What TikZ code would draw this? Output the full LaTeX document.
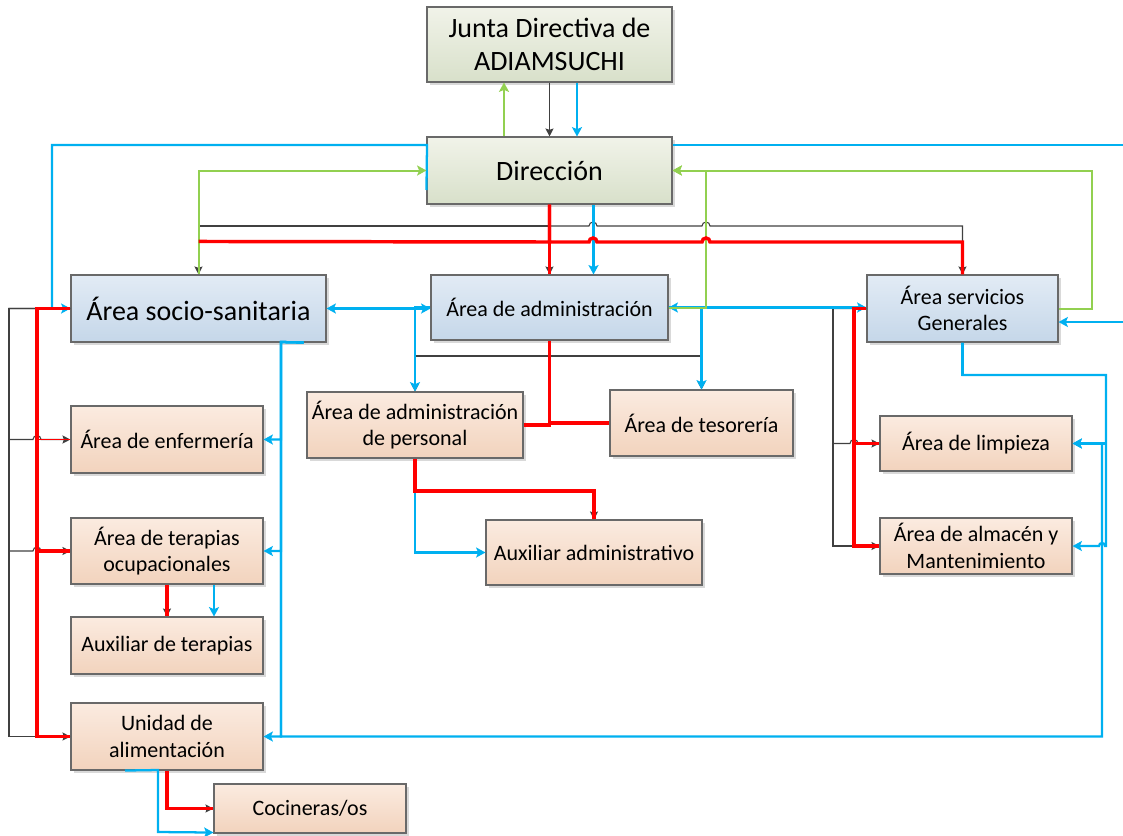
\documentclass[tikz,border=0pt]{standalone}
\usepackage{fontspec}
\setmainfont{Carlito}
\usetikzlibrary{arrows.meta,shadows,calc}

\definecolor{linegray}{RGB}{64,64,64}
\definecolor{lineblue}{RGB}{0,176,240}
\definecolor{linegreen}{RGB}{146,208,80}
\definecolor{linered}{RGB}{255,0,0}
\definecolor{boxedge}{RGB}{105,105,105}

\begin{document}
\begin{tikzpicture}[
    x=0.75pt, y=-0.75pt,
    box/.style={rectangle, draw=boxedge, line width=0.8pt, inner sep=0pt, align=center,
        drop shadow={shadow xshift=2pt, shadow yshift=-2pt, fill=black, opacity=0.15},
        font=\fontsize{16.5}{20}\selectfont},
    size/.style 2 args={minimum width=#1*0.75pt, minimum height=#2*0.75pt},
    box_head/.style={box, top color={rgb,255:red,241;green,243;blue,233}, bottom color={rgb,255:red,216;green,224;blue,202},
        font=\fontsize{21}{25}\selectfont},
    box_area/.style={box, top color={rgb,255:red,226;green,235;blue,245}, bottom color={rgb,255:red,197;green,215;blue,233}},
    box_unit/.style={box, top color={rgb,255:red,251;green,235;blue,224}, bottom color={rgb,255:red,242;green,211;blue,189}},
    link_gray/.style={draw=linegray, line width=0.8pt, -{Stealth[length=6pt, width=6pt, inset=1pt]}},
    link_blue/.style={draw=lineblue, line width=1.7pt, -{Stealth[length=7pt, width=7.5pt, inset=1.5pt]}},
    link_green/.style={draw=linegreen, line width=1.5pt, -{Stealth[length=7pt, width=7.5pt, inset=1.5pt]}},
    link_red/.style={draw=linered, line width=2.6pt},
    bothways/.style={{Stealth[length=7pt, width=7.5pt, inset=1.5pt]}-{Stealth[length=7pt, width=7.5pt, inset=1.5pt]}}
  ]
  \clip (0,0) rectangle (1123,835);

  % boxes
  \node (junta) [box_head, size={245}{75}] at (549.5,44.5) {Junta Directiva de\\ADIAMSUCHI};
  \node (dir) [box_head, size={245}{67}] at (549.5,170.5) {Dirección};
  \node (socio) [box_area, size={255}{67}, font=\fontsize{21}{25}\selectfont] at (198.5,308.5) {Área socio-sanitaria};
  \node (admin) [box_area, size={237}{65}] at (549.5,307.5) {Área de administración};
  \node (serv) [box_area, size={191}{67}] at (962.5,308.5) {Área servicios\\Generales};
  \node (enf) [box_unit, size={192}{67}] at (167,439.5) {Área de enfermería};
  \node (terap) [box_unit, size={192}{66}] at (167,551) {Área de terapias\\ocupacionales};
  \node (auxter) [box_unit, size={192}{57}] at (167,645.5) {Auxiliar de terapias};
  \node (unidad) [box_unit, size={192}{67}] at (167,736.5) {Unidad de\\alimentación};
  \node (cocina) [box_unit, size={192}{49}] at (310,808.5) {Cocineras/os};
  \node (personal) [box_unit, size={216}{66}] at (415,425) {Área de administración\\de personal};
  \node (tesor) [box_unit, size={183}{66}] at (701.5,423) {Área de tesorería};
  \node (auxadm) [box_unit, size={216}{65}] at (594,552.5) {Auxiliar administrativo};
  \node (limp) [box_unit, size={192}{55}] at (976,443.5) {Área de limpieza};
  \node (almac) [box_unit, size={192}{56}] at (976,546) {Área de almacén y\\Mantenimiento};

  % gray lines (under the rest)
  \draw[link_gray] (junta.south) -- (dir.north);
  \draw[link_gray] (dir.south) -- (admin.north);
  \draw[link_gray] (dir.south) -- (549.5,226) -| (socio.north);
  \draw[link_gray] (dir.south) -- (549.5,226) -- (589,226) arc[start angle=180, end angle=360, radius=4]
    -- (702,226) arc[start angle=180, end angle=360, radius=4] -- (962.5,226) -- (serv.north);
  \draw[link_gray] (admin.south) -- (549.5,356) -| (personal.north);
  \draw[link_gray] (admin.south) -- (549.5,356) -| (tesor.north);
  \draw[link_gray] (personal.south) -- (415,491) -| (auxadm.north);
  \draw[link_gray] (socio.west) -- (9,308.5) |- (unidad.west);
  \draw[link_gray] (socio.west) -- (9,308.5) -- (9,439.5) -- (33,439.5)
    arc[start angle=180, end angle=360, radius=4] -- (enf.west);
  \draw[link_gray] (socio.west) -- (9,308.5) -- (9,551) -- (33,551)
    arc[start angle=180, end angle=360, radius=4] -- (terap.west);
  \draw[link_gray] (terap.south) -- (auxter.north);
  \draw[link_gray] (unidad.south) |- (cocina.west);
  \draw[link_gray] (serv.west) -- (833,308.5) |- (almac.west);
  \draw[link_gray] (serv.west) -- (833,308.5) -- (833,443.5) -- (850,443.5)
    arc[start angle=180, end angle=360, radius=4] -- (limp.west);

  % blue lines
  \draw[link_blue] ($(junta.south)+(27.5,0)$) -- ($(dir.north)+(27.5,0)$);
  \draw[link_blue] ($(dir.south)+(44,0)$) -- ($(admin.north)+(44,0)$);
  \draw[link_blue] ($(dir.west)+(0,19.5)$) -- (427,145) -- (52,145) |- (socio.west);
  \draw[link_blue] ($(dir.east)+(0,-25.5)$) -- (1126,145) -- (1126,322) -- ($(serv.east)+(0,13.5)$);
  \draw[link_blue, bothways] (socio.east) -- (socio.east -| admin.west);
  \draw[link_blue] (admin.west) -- (415,307.5) -- (personal.north);
  \draw[link_blue, bothways] (admin.east) -- (admin.east -| serv.west);
  \draw[link_blue] (admin.east) -- (701.5,307.5) -- (tesor.north);
  \draw[link_blue] (personal.south) |- (auxadm.west);
  \draw[link_blue] ($(socio.south east)+(-23,0)$) -- (281,342) |- (enf.east);
  \draw[link_blue] ($(socio.south east)+(-23,0)$) -- (281,342) |- (terap.east);
  \draw[link_blue] ($(socio.south east)+(-23,0)$) -- (281,342) |- (unidad.east);
  \draw[link_blue] ($(socio.south east)+(-23,0)$) -- (281,342) -- (281,736.5)
    -- (1102,736.5) |- (limp.east);
  \draw[link_blue] ($(terap.south)+(47,0)$) -- ($(auxter.north)+(47,0)$);
  \draw[link_blue] ($(unidad.south)+(-42,0)$) -- (158,770) -- (158,832) -- ($(cocina.south west)+(0,-1)$);
  \draw[link_blue] (serv.south) -- (962.5,375) -- (1106,375) |- (limp.east);
  \draw[link_blue] (serv.south) -- (962.5,375) -- (1106,375) -- (1106,546) -- (1105,546)
    arc[start angle=360, end angle=180, radius=3] -- (almac.east);

  % green lines
  \draw[link_green] ($(dir.north)+(-45.5,0)$) -- ($(junta.south)+(-45.5,0)$);
  \draw[link_green] (socio.north) |- (dir.west);
  \draw[link_green] (admin.east) -- (706,307.5) |- (dir.east);
  \draw[link_green] (serv.east) -- (1092,308.5) |- (dir.east);

  % red lines
  \draw[link_red] (dir.south) -- (admin.north);
  \draw[link_red] (dir.south) -- (549.5,242) -- ($(socio.north)+(0,-33)$);
  \draw[link_red] (dir.south) -- (549.5,242) -- (589,242) arc[start angle=180, end angle=360, radius=4]
    -- (702,242) arc[start angle=180, end angle=360, radius=4] -- (962.5,242) -- (serv.north);
  \draw[link_red] (admin.south) |- (personal.east);
  \draw[link_red] (admin.south) |- (tesor.west);
  \draw[link_red] (personal.south) -- (415,491) -| (auxadm.north);
  \draw[link_red, line width=1.2pt] (socio.west) -- (37,308.5) |- (enf.west);
  \draw[link_red] (socio.west) -- (37,308.5) |- (terap.west);
  \draw[link_red] (socio.west) -- (37,308.5) |- (unidad.west);
  \draw[link_red] (terap.south) -- (auxter.north);
  \draw[link_red] (unidad.south) |- (cocina.west);
  \draw[link_red] (serv.west) -- (854,308.5) |- (limp.west);
  \draw[link_red] (serv.west) -- (854,308.5) |- (almac.west);
\end{tikzpicture}
\end{document}
